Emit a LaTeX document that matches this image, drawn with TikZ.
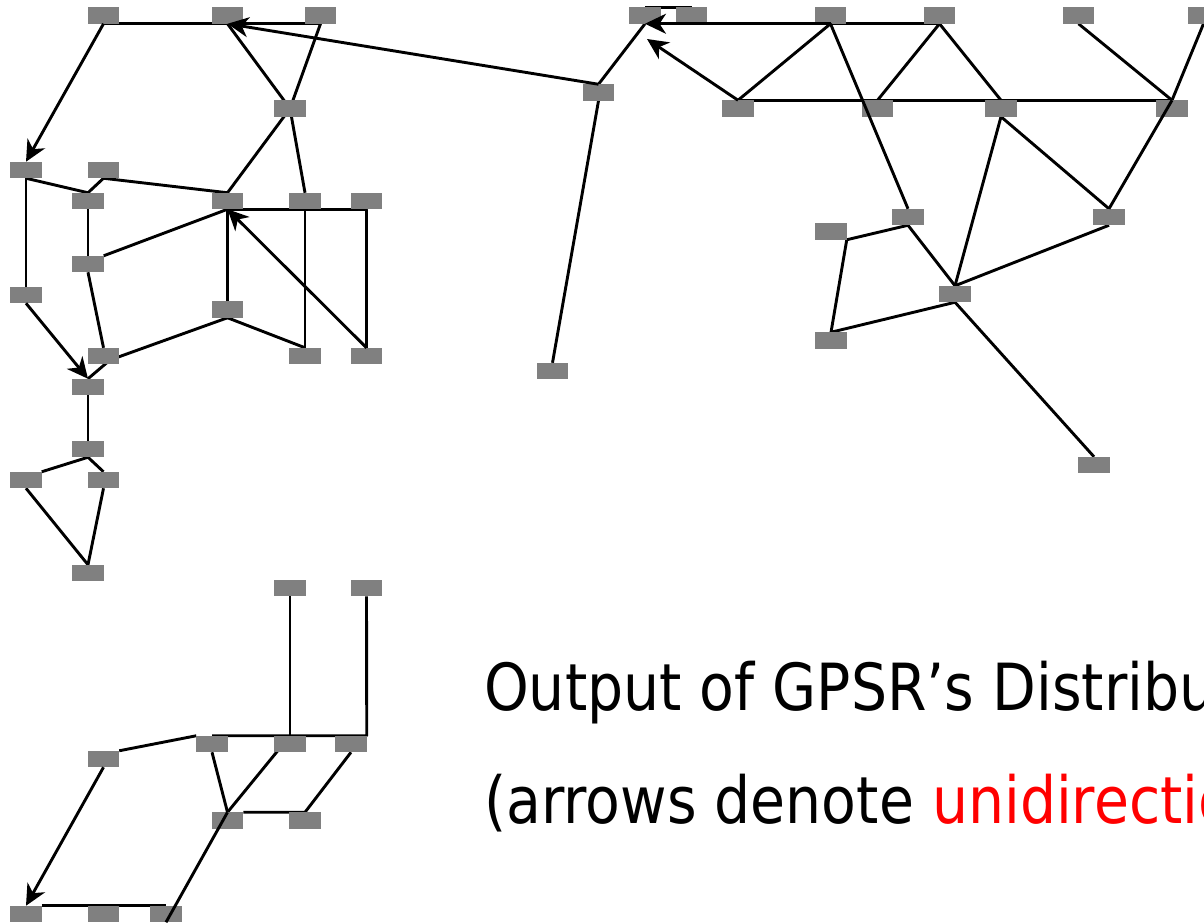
\documentclass[tikz,border=0pt]{standalone}
\usepackage{fontspec}
\newfontfamily\capfont[FakeStretch=0.875]{DejaVu Sans}
\usetikzlibrary{arrows.meta}
\definecolor{nodegray}{RGB}{128,128,128}
\definecolor{capred}{RGB}{255,0,0}
\pgfdeclarelayer{bg}
\pgfsetlayers{bg,main}
\begin{document}
\begin{tikzpicture}[x=1pt,y=-1pt,
  box/.style={fill=nodegray, draw=none, minimum width=31.5pt, minimum height=16.5pt, inner sep=0pt, outer sep=0pt},
  link/.style={line width=2.9pt, line join=round},
  arr/.style={link, -{Stealth[length=21pt,width=20pt,inset=6.5pt]}},
  captext/.style={anchor=base west, inner sep=0pt, font=\capfont\fontsize{65}{78}\selectfont}
]
\useasboundingbox (0,0) rectangle (1204,922);
\clip (0,0) rectangle (1204,922);

% ---------- nodes: left cluster ----------
\node[box] (n1)  at (103.5,15.5) {};
\node[box] (n2)  at (227.5,15.5) {};
\node[box] (n3)  at (320.5,15.5) {};
\node[box] (n4)  at (290,108.5) {};
\node[box] (n5)  at (26,170) {};
\node[box] (n7)  at (103.5,170) {};
\node[box] (n6)  at (88,201) {};
\node[box] (n8)  at (227.5,201) {};
\node[box] (n9)  at (305,201) {};
\node[box] (na)  at (366.5,201) {};
\node[box] (n10) at (88,264) {};
\node[box] (n11) at (26,295) {};
\node[box] (n12) at (227.5,309.5) {};
\node[box] (n13) at (103.5,356) {};
\node[box] (n14) at (305,356) {};
\node[box] (n15) at (366.5,356) {};
\node[box] (n16) at (88,387) {};
\node[box] (n17) at (88,449) {};
\node[box] (n18) at (26,480) {};
\node[box] (n19) at (103.5,480) {};
\node[box] (n20) at (88,573) {};
\node[box] (n21) at (290,588) {};
\node[box] (n22) at (366.5,588) {};
% ---------- nodes: bottom cluster ----------
\node[box] (n23) at (103.5,759) {};
\node[box] (n24) at (212,744) {};
\node[box] (n25) at (290,744) {};
\node[box] (n26) at (351,744) {};
\node[box] (n27) at (227.5,820.5) {};
\node[box] (n28) at (305,820.5) {};
\node[box] (n29) at (26,914) {};
\node[box] (n30) at (103.5,914) {};
\node[box] (n31) at (166,914) {};
% ---------- nodes: right cluster ----------
\node[box] (m1)  at (645,15.5) {};
\node[box] (m2)  at (691.5,15.5) {};
\node[box] (m3)  at (598.5,92.5) {};
\node[box] (m4)  at (552.5,371) {};
\node[box] (m5)  at (738,108.5) {};
\node[box] (m6)  at (830.5,15.5) {};
\node[box] (m7)  at (939.5,15.5) {};
\node[box] (m8)  at (1078.5,15.5) {};
\node[box] (m9)  at (1203.5,15.5) {};
\node[box] (m10) at (877.5,108.5) {};
\node[box] (m11) at (1001,108.5) {};
\node[box] (m12) at (1172,108.5) {};
\node[box] (m13) at (908,217) {};
\node[box] (m14) at (1109,217) {};
\node[box] (m15) at (955,294) {};
\node[box] (m16) at (831,231.5) {};
\node[box] (m17) at (831,340.5) {};
\node[box] (m18) at (1094,465) {};
\coordinate (m1a) at (647,39);
\coordinate (n13j) at (110,360);

% ---------- plain links (under the boxes) ----------
\begin{pgfonlayer}{bg}
\draw[link] (n1.south) -- (n2.south) -- (n3.south);
\draw[link] (n2.south) -- (n4.center);
\draw[link] (n3.south) -- (n4.center);
\draw[link] (n4.center) -- (n8.north);
\draw[link] (n4.center) -- (n9.north);
\draw[link] (n5.south) -- (n6.north) -- (n7.south) -- (n8.north);
\draw[link] (n5.south) -- (n11.north);
\draw[link] (n6.south) -- (n10.north);
\draw[link] (n10.north east) -- (n8.south);
\draw[link] (n8.south) -- (na.south) -- (n15.north);
\draw[link] (n8.south) -- (n12.north);
\draw[link] (n9.south) -- (n14.north);
\draw[link] (n12.south) -- (n14.north);
\draw[link] (n10.south) -- (n13.north);
\draw[link] (n12.south) -- (n13j) -- (n16.north);
\draw[link] (n16.south) -- (n17.north);
\draw[link] (n17.south) -- (n18.north east);
\draw[link] (n17.south) -- (n19.north);
\draw[link] (n18.south) -- (n20.north);
\draw[link] (n19.south) -- (n20.north);
% bottom cluster
\draw[link] (n21.south) -- (n25.north);
\draw[link] (n24.north) -- (n25.north) -- (n26.north east) -- (n22.south);
\draw[link] (n23.north east) -- (n24.north west);
\draw[link] (n29.north east) -- (n31.north);
\draw[link] (n24.south) -- (n27.north);
\draw[link] (n25.north) -- (n27.north);
\draw[link] (n26.south) -- (n28.north) -- (n27.north east);
% right cluster
\draw[link] (m1.north) -- (m2.north);
\draw[link] (m3.north) -- (m1.south);
\draw[link] (m3.south) -- (m4.north);
\draw[link] (m6.south) -- (m7.south);
\draw[link] (m5.north) -- (m6.south);
\draw[link] (m5.north) -- (m10.north) -- (m11.north) -- (m12.north);
\draw[link] (m10.north) -- (m7.south) -- (m11.north);
\draw[link] (m8.south) -- (m12.north);
\draw[link] (m9.south) -- (m12.north);
\draw[link] (m11.south) -- (m14.north);
\draw[link] (m11.south) -- (m15.north);
\draw[link] (m13.south) -- (m15.north);
\draw[link] (m14.south) -- (m15.north);
\draw[link] (m13.south) -- (m16.south east) -- (m17.north);
\draw[link] (m15.south) -- (m17.north);
\draw[link] (m15.south) -- (m18.north);
\end{pgfonlayer}

% ---------- links drawn over the boxes ----------
\draw[link] (n27.north) -- (n31.south);
\draw[link] (m6.south) -- (m13.north);
\draw[link] (m12.north) -- (m14.north);

% ---------- unidirectional links ----------
\draw[arr] (n1.south) -- (n5.north);
\draw[arr] (m3.north) -- (n2.south);
\draw[arr] (n15.north) -- (n8.south);
\draw[arr] (n11.south) -- (n16.north);
\draw[arr] (n23.south) -- (n29.north);
\draw[arr] (m6.south) -- (m1.south);
\draw[arr] (m5.north) -- (m1a);

% ---------- caption ----------
\node[captext] (cap1) at (484,710) {Output of GPSR’s Distribut};
\node[captext] (cap2) at (484,823) {(arrows denote \textcolor{capred}{unidirectio}};
\end{tikzpicture}
\end{document}
